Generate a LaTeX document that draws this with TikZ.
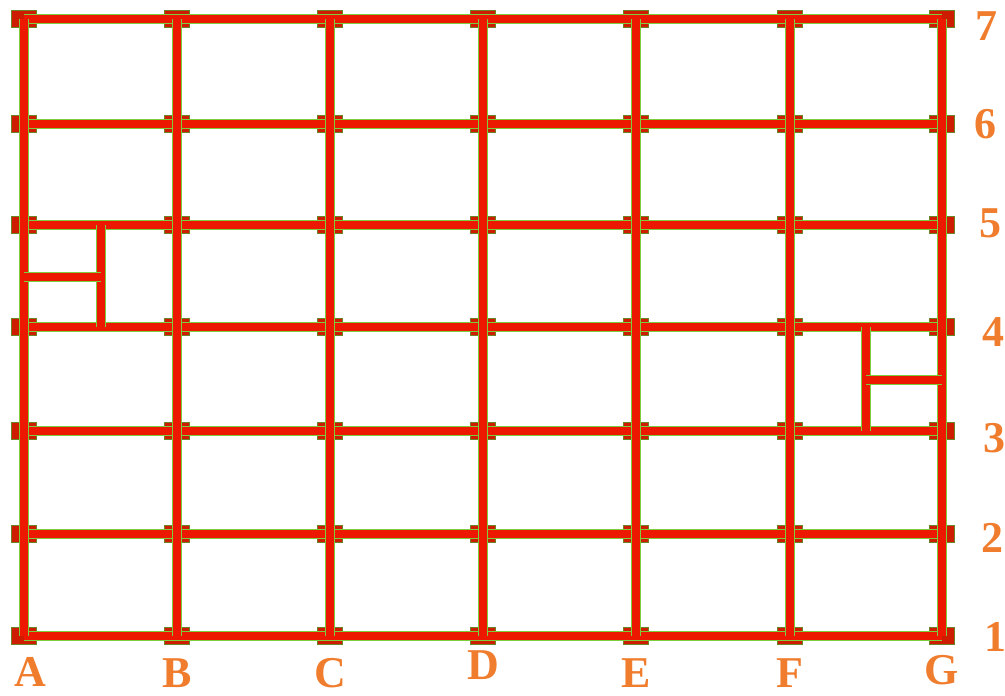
\documentclass[tikz,border=0pt]{standalone}
\usepackage{fontspec}
\setmainfont{Liberation Serif}
\usetikzlibrary{positioning}
\definecolor{beamred}{RGB}{236,24,0}
\definecolor{beamedge}{RGB}{125,205,60}
\definecolor{platered}{RGB}{205,28,0}
\definecolor{plateedge}{RGB}{110,130,40}
\definecolor{gridlab}{RGB}{240,125,45}
\tikzset{
  beam/.style={draw=beamedge, line width=1.3pt, double=beamred, double distance=7.5pt},
  plate/.style={rectangle, fill=platered, draw=plateedge, line width=0.7pt,
      minimum width=25pt, minimum height=17pt, inner sep=0pt},
  glab/.style={font=\fontsize{44}{44}\selectfont\bfseries, text=gridlab, inner sep=0pt},
}

\begin{document}
\begin{tikzpicture}[x=1pt, y=-1pt]
\useasboundingbox (0,0) rectangle (1005,696);
%---- grid points
\foreach \c/\x in {A/24,B/177,C/330,D/483,E/636,F/790,G/942}
  \foreach \r/\y in {7/19,6/124,5/225,4/327,3/431,2/534,1/636}
    \coordinate (\c\r) at (\x,\y);
%---- column plates
\foreach \c in {A,...,G}
  \foreach \r in {1,...,7}
    \node[plate] (p\c\r) at (\c\r) {};
%---- main beams
\foreach \r in {1,...,7}
  \draw[beam] (A\r) -- (G\r);
\foreach \c in {A,...,G}
  \draw[beam] (\c7) -- (\c1);
%---- secondary beams, bay A4-A5
\coordinate (sa5) at (101,225);
\coordinate (sa4) at (101,327);
\coordinate (sam) at (24,277);
\coordinate (sbm) at (101,277);
\draw[beam] (sa5) -- (sa4);
\draw[beam] (sam) -- (sbm);
%---- secondary beams, bay G3-G4
\coordinate (sf4) at (866,327);
\coordinate (sf3) at (866,431);
\coordinate (sfm) at (866,380);
\coordinate (sgm) at (942,380);
\draw[beam] (sf4) -- (sf3);
\draw[beam] (sfm) -- (sgm);
%---- axis labels
\node[glab] (labA) at (30,672) {A};
\node[glab] (labB) at (177,673) {B};
\node[glab] (labC) at (330,673) {C};
\node[glab] (labD) at (483,665) {D};
\node[glab] (labE) at (636,673) {E};
\node[glab] (labF) at (790,673) {F};
\node[glab] (labG) at (942,670) {G};
\node[glab] (lab7) at (986,26) {7};
\node[glab] (lab6) at (985,124) {6};
\node[glab] (lab5) at (990,223) {5};
\node[glab] (lab4) at (993,332) {4};
\node[glab] (lab3) at (994,438) {3};
\node[glab] (lab2) at (992,538) {2};
\node[glab] (lab1) at (995,637) {1};
\end{tikzpicture}
\end{document}
